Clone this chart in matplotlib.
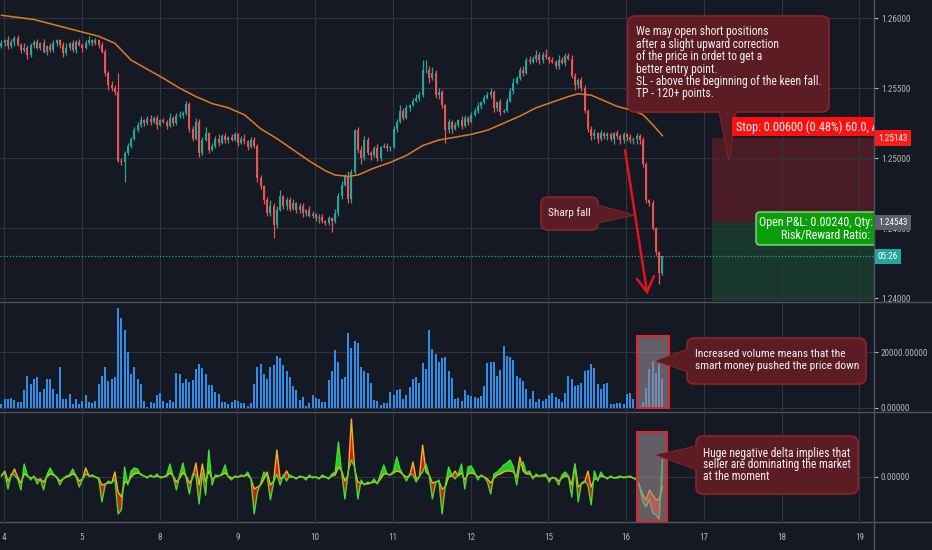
import matplotlib
matplotlib.use('Agg')
import matplotlib.pyplot as plt
import matplotlib.transforms as mtransforms
from matplotlib.patches import Rectangle, FancyBboxPatch, Polygon
from matplotlib.lines import Line2D
from matplotlib import font_manager
import numpy as np

# ---------------- data ----------------
day_labels = ['4', '5', '8', '9', '10', '11', '12', '15', '16', '17', '18', '19']
first_open = 1.2580
close = [
    1.2582, 1.2584, 1.2580, 1.2583, 1.2586, 1.2581, 1.2577, 1.2579, 1.2574, 1.2581,
    1.2583, 1.2579, 1.2582, 1.2576, 1.2580, 1.2577, 1.2582, 1.2584, 1.2581, 1.2575,
    1.2579, 1.2582, 1.2577, 1.2583, 1.2581, 1.2579, 1.2582, 1.2584, 1.2582, 1.2584,
    1.2581, 1.2576, 1.2561, 1.2552, 1.2550, 1.2547, 1.2498, 1.2497, 1.2504, 1.2509,
    1.2514, 1.2520, 1.2524, 1.2527, 1.2525, 1.2528, 1.2526, 1.2529, 1.2524, 1.2527,
    1.2526, 1.2523, 1.2529, 1.2525, 1.2530, 1.2531, 1.2532, 1.2539, 1.2521, 1.2514,
    1.2526, 1.2504, 1.2513, 1.2518, 1.2506, 1.2509, 1.2514, 1.2511, 1.2516, 1.2513,
    1.2515, 1.2513, 1.2517, 1.2511, 1.2514, 1.2512, 1.2508, 1.2513, 1.2509, 1.2486,
    1.2480, 1.2470, 1.2461, 1.2466, 1.2452, 1.2463, 1.2473, 1.2466, 1.2470, 1.2464,
    1.2468, 1.2463, 1.2466, 1.2461, 1.2463, 1.2459, 1.2460, 1.2457, 1.2458, 1.2455,
    1.2454, 1.2457, 1.2455, 1.2461, 1.2473, 1.2481, 1.2487, 1.2471, 1.2490, 1.2520,
    1.2506, 1.2500, 1.2513, 1.2504, 1.2502, 1.2507, 1.2500, 1.2508, 1.2509, 1.2507,
    1.2508, 1.2521, 1.2526, 1.2534, 1.2529, 1.2536, 1.2538, 1.2541, 1.2543, 1.2545,
    1.2563, 1.2563, 1.2557, 1.2561, 1.2545, 1.2547, 1.2538, 1.2520, 1.2526, 1.2521,
    1.2524, 1.2527, 1.2523, 1.2529, 1.2526, 1.2531, 1.2534, 1.2537, 1.2540, 1.2543,
    1.2545, 1.2547, 1.2536, 1.2540, 1.2533, 1.2534, 1.2541, 1.2548, 1.2554, 1.2557,
    1.2563, 1.2561, 1.2570, 1.2569, 1.2571, 1.2574, 1.2570, 1.2574, 1.2572, 1.2570,
    1.2569, 1.2566, 1.2570, 1.2568, 1.2573, 1.2571, 1.2559, 1.2552, 1.2556, 1.2550,
    1.2534, 1.2521, 1.2516, 1.2518, 1.2514, 1.2518, 1.2516, 1.2517, 1.2514, 1.2518,
    1.2516, 1.2513, 1.2517, 1.2515, 1.2513, 1.2514, 1.2516, 1.2513, 1.2496, 1.2470,
    1.2468, 1.2450, 1.2433, 1.2418, 1.2430]
upper_wick_pips = [
    2, 1, 3, 2, 1, 2, 1, 3, 2, 1, 1, 2, 1, 3, 1, 2, 2, 1, 1, 2,
    3, 1, 2, 1, 2, 1, 2, 3, 1, 2, 1, 2, 2, 1, 3, 2, 14, 2, 1, 2,
    1, 2, 2, 3, 1, 2, 3, 1, 2, 1, 2, 1, 3, 1, 2, 3, 2, 2, 1, 2,
    3, 2, 2, 4, 1, 2, 2, 3, 1, 2, 1, 2, 2, 1, 2, 3, 1, 2, 2, 1,
    2, 1, 2, 4, 2, 3, 4, 1, 2, 2, 3, 1, 2, 2, 1, 3, 2, 1, 2, 2,
    1, 2, 1, 3, 2, 3, 2, 4, 2, 1, 2, 3, 3, 2, 1, 2, 3, 1, 2, 2,
    1, 2, 2, 4, 2, 2, 1, 2, 3, 2, 7, 7, 3, 4, 2, 3, 2, 1, 2, 1,
    2, 1, 3, 2, 1, 2, 2, 3, 1, 2, 2, 3, 2, 1, 2, 1, 2, 2, 3, 2,
    2, 3, 2, 3, 2, 3, 2, 2, 4, 1, 2, 1, 4, 2, 2, 2, 3, 2, 1, 2,
    2, 1, 2, 3, 1, 2, 1, 2, 2, 1, 2, 1, 2, 1, 2, 1, 2, 1, 2, 1,
    1, 2, 1, 1, 0]
lower_wick_pips = [
    1, 2, 2, 1, 3, 1, 2, 1, 3, 2, 2, 1, 2, 1, 2, 1, 1, 2, 2, 3,
    1, 2, 1, 2, 1, 3, 1, 1, 2, 1, 2, 1, 2, 3, 2, 2, 1, 2, 14, 2,
    2, 1, 1, 2, 2, 1, 2, 1, 3, 1, 1, 2, 1, 2, 1, 1, 2, 1, 2, 2,
    1, 3, 2, 1, 2, 1, 2, 2, 1, 2, 2, 1, 1, 2, 1, 2, 2, 1, 2, 3,
    2, 3, 2, 2, 9, 2, 1, 2, 3, 2, 1, 2, 2, 3, 2, 1, 2, 2, 3, 1,
    2, 2, 8, 1, 2, 2, 1, 3, 3, 1, 2, 4, 1, 2, 3, 1, 2, 2, 1, 2,
    2, 1, 2, 1, 2, 1, 2, 1, 1, 2, 1, 2, 3, 1, 2, 3, 2, 9, 2, 3,
    1, 2, 2, 1, 2, 1, 1, 2, 2, 1, 1, 2, 3, 2, 2, 1, 1, 1, 2, 1,
    1, 2, 1, 2, 1, 2, 3, 2, 1, 2, 1, 2, 2, 1, 2, 1, 2, 3, 2, 2,
    2, 2, 3, 2, 3, 2, 2, 3, 2, 4, 2, 3, 2, 3, 2, 3, 4, 3, 2, 2,
    2, 1, 2, 8, 1]
volume = [
    1300, 2900, 2900, 3400, 2600, 1900, 1900,
    6200, 11300, 8300, 10200, 10900, 5600, 6600, 10200, 10400, 6800, 5000, 14700,
    3200, 2900, 5000, 1300, 3200, 1300, 2200, 4400, 1900, 1700, 2400,
    8300, 11300, 14700, 9500, 10400, 11100,
    35900, 32300, 28000, 19900, 11900, 14700, 10200, 8300, 2200, 200, 1900, 1700,
    4400, 5400, 2200, 1700, 2600, 2000,
    12600, 11900, 9000, 10200, 9200, 9800, 13800, 15800, 14300, 11900, 8000, 8000,
    5600, 5000, 1900, 1900, 1200, 1900, 2600, 2200, 1700, 1700, 700, 1500,
    8300, 14700, 15500, 11900, 10400, 14700, 15300, 18700, 17700, 15300, 13100,
    11000, 7800, 6200, 2600, 3800, 700, 1700, 4400, 3400, 2900, 1900, 1900,
    9800, 13100, 20700, 16500, 10200, 11000, 26800, 21400, 24000, 23200, 14700,
    13100, 12600, 9000, 2600, 2200, 1000, 1700, 1500,
    5600, 4400, 6200, 6600, 3200, 4400, 7400, 10400, 11000, 9000, 15900, 13800,
    28000, 21100, 19200, 16500, 18000, 18300, 13100, 10700, 2900, 3400, 2200, 6200,
    4400, 4000, 3800, 3400, 4000, 7800, 15900, 16300, 16500, 11400, 13500, 22000,
    18700, 18300, 17100, 11400, 10700, 9500, 6800, 3200, 5800, 2000, 2900, 2500,
    2900, 4400, 5400, 3800, 3000,
    2000, 5400, 11300, 10200, 7800, 8000, 9000, 13100, 13500, 15500, 14100, 8600,
    6800, 8300, 9000, 1400, 1400, 1700, 1500,
    1400, 4700, 5400, 2900, 2200, 700, 2000, 7100, 13800, 16900, 12600, 15700, 10400]
delta = [
    2, 4, -12, 3, 2, -2, -13, 13, 2, -3, 1, -7, -2, -13, 2, 9, 3, 0, -8, -2,
    1, 2, 8, 1, -10, -2, 3, 1, 2, 0, -2, -25, -8, -4, -6, -2, -37, -33, 10, -8,
    6, 9, 8, 2, 1, -1, 2, 0, 3, -1, 0, 2, 13, 0, -13, 2, 14, -1, -17, 3,
    2, -27, 4, -18, 27, -8, 2, 1, 3, 12, 0, -3, 1, 0, 2, 1, 5, -2, -37, -15,
    -6, 5, 1, -23, -5, 3, -8, 2, -4, 2, 0, -2, 1, 0, -3, 2, -1, 0, -2, 2,
    0, -2, 3, 5, 35, 4, -22, 5, 17, 10, -22, -3, -8, -5, -6, -2, -7, 3, 12, 3,
    2, 6, 20, 8, 2, -4, 3, 2, -5, 1, 5, 13, 2, -22, -6, -3, -37, -8, 10, 2,
    -2, 3, 13, -12, 10, 11, 5, -3, 2, 0, -5, -17, 3, 5, 8, 12, 14, 17, 10, -8,
    12, 15, 4, 6, -2, 3, 1, 2, 3, -5, 0, -2, -8, 2, 5, 1, -20, 13, -25, -6,
    -4, -8, -28, 6, -4, 5, 0, -2, 1, -1, 0, 1, -1, 0, 1, -1, -3, -10, -25, -30,
    -22, -36, -38, -42, 17]
delta_signal = [
    1, 6, -4, 1, 8, 0, -6, 3, 1, -1, 0, -3, -2, -5, 0, 3, 2, 0, -4, -2,
    0, 1, 3, 1, -4, -2, 9, 1, 1, 0, -1, -8, -7, -6, -6, 5, -15, -20, -5, -6,
    0, 3, 4, 3, 1, 0, 1, 0, 1, 0, 0, 1, 4, 1, -5, -1, 4, 1, -6, -1,
    14, -8, 13, -5, 6, -2, 0, 1, 2, 4, 1, -1, 0, 0, 1, 1, 2, -2, -12, -10,
    -8, -2, 5, -8, -4, 27, -2, 0, 6, 0, 0, -1, 0, 0, -1, 0, 0, 0, -1, 0,
    0, -1, 1, 2, 10, 6, -4, 2, 58, 8, -5, -6, -7, -7, -6, -5, -6, -2, 3, 3,
    2, 4, 6, 5, 2, 0, 1, 15, -2, 0, 32, 5, 2, -6, -5, -4, -12, -10, 0, 1,
    6, 1, 4, -3, 3, 4, 3, 0, 1, 0, -2, -6, -1, 2, 3, 5, 6, 6, 5, 0,
    20, 6, 3, 3, 0, 1, 1, 1, 1, -2, -1, -1, -4, -1, 1, 0, -8, 13, -10, -7,
    -5, 6, -10, -2, -2, 1, 0, -1, 0, -1, -1, 0, 0, 0, 0, -1, -2, -10, -18, -23,
    -13, -18, -23, -22, -10]
ma_index = [0, 10, 20, 30, 35, 40, 50, 55, 60, 65, 70, 75, 80, 85, 90, 95, 100, 103,
            107, 110, 115, 120, 125, 130, 135, 140, 145, 150, 155, 160, 165, 170,
            175, 178, 182, 185, 190, 195, 198, 201, 204]
ma_value = [1.2602, 1.2599, 1.2593, 1.2587, 1.2582, 1.2570, 1.2557, 1.2550, 1.2544,
            1.2539, 1.2536, 1.2531, 1.2521, 1.2514, 1.2506, 1.2498, 1.2491, 1.2488,
            1.2487, 1.2488, 1.2493, 1.2497, 1.2502, 1.2509, 1.2513, 1.2515, 1.2517,
            1.2520, 1.2525, 1.2530, 1.2536, 1.2540, 1.2544, 1.2546, 1.2545, 1.2542,
            1.2537, 1.2534, 1.2531, 1.2524, 1.2516]
price_ticks = [1.24, 1.245, 1.25, 1.255, 1.26]
volume_ticks = [0, 20000]
delta_ticks = [0]
last_price = 1.2430
entry_price = 1.24543
stop_price = 1.25143
target_price = 1.2380
countdown = '05:26'
position_start = 219.3  # candle index where the short-position tool starts

callout_main = ["We may open short positions",
                "after a slight upward correction",
                "of the price in ordet to get a",
                "better entry point.",
                "SL - above the beginning of the keen fall.",
                "TP - 120+ points."]
callout_fall = ["Sharp fall"]
callout_volume = ["Increased volume means that the",
                  "smart money pushed the price down"]
callout_delta = ["Huge negative delta implies that",
                 "seller are dominating the market",
                 "at the moment"]
stop_text = "Stop: 0.00600 (0.48%) 60.0, Amount: 1"
pnl_lines = ["Open P&L: 0.00240, Qty:", "Risk/Reward Ratio:"]

# ---------------- style ----------------
W, H = 932, 550
BG = '#151924'
GRID = '#2f3441'
SEP = '#50545f'
TXT = '#b2b5be'
UP = '#26a69a'
DOWN = '#ef5350'
CF = '#5b1c24'
CE = '#8e222b'

avail = {f.name for f in font_manager.fontManager.ttflist}
FONT = 'DejaVu Sans'
for cand in ['Roboto Condensed', 'Liberation Sans Narrow', 'Archivo Narrow']:
    if cand in avail:
        FONT = cand
        break
plt.rcParams['font.family'] = [FONT, 'DejaVu Sans']

fig = plt.figure(figsize=(W / 100, H / 100), dpi=100, facecolor=BG)
R = fig.canvas.get_renderer()


def frac(x0, y0, x1, y1):
    return [x0 / W, 1 - y1 / H, (x1 - x0) / W, (y1 - y0) / H]


def fit_size(s, target_w, base=10.0):
    t = fig.text(0, 0, s, fontsize=base)
    w = t.get_window_extent(renderer=R).width
    t.remove()
    return base * target_w / w


ax_p = fig.add_axes(frac(0, 0, 874, 301))
ax_v = fig.add_axes(frac(0, 302, 874, 411))
ax_d = fig.add_axes(frac(0, 412, 874, 521))

n = min(len(close), len(volume), len(delta), len(delta_signal),
        len(upper_wick_pips), len(lower_wick_pips))
xs = np.arange(n)
c = np.array(close[:n])
o = np.array([first_open] + close[:n - 1])
hi = np.maximum(o, c) + np.array(upper_wick_pips[:n]) * 0.0001
lo = np.minimum(o, c) - np.array(lower_wick_pips[:n]) * 0.0001
cols = [UP if cc >= oo else DOWN for oo, cc in zip(o, c)]
day_pos = [0.8 + 24 * k for k in range(len(day_labels))]

tick_fs = max(6.0, min(8.0, fit_size('1.26000', 29)))

for ax in (ax_p, ax_v, ax_d):
    ax.set_facecolor(BG)
    for sp in ax.spines.values():
        sp.set_visible(False)
    ax.set_xlim(-0.46, 269.3)
    ax.set_xticks(day_pos)
    ax.grid(True, color=GRID, lw=0.8)
    ax.set_axisbelow(True)
    ax.yaxis.tick_right()
    ax.tick_params(axis='y', colors=TXT, labelsize=tick_fs, length=3, width=0.8, pad=2)
    ax.yaxis.set_major_formatter(matplotlib.ticker.FormatStrFormatter('%.5f'))

# price panel
ax_p.set_ylim(1.23981, 1.26129)
ax_p.set_yticks(price_ticks)
ax_p.tick_params(axis='x', labelbottom=False, length=0)
ax_p.add_patch(Rectangle((position_start, entry_price), 100, stop_price - entry_price,
                         fc='#4a1c25', ec='none', zorder=0.5))
ax_p.add_patch(Rectangle((position_start, target_price), 100, entry_price - target_price,
                         fc='#17382a', ec='none', zorder=0.5))
ax_p.vlines(xs, lo, hi, colors=cols, lw=0.9, zorder=2)
body = c - o
body = np.where(np.abs(body) < 0.00002, 0.00002, body)
ax_p.bar(xs, body, bottom=o, width=0.62, color=cols, lw=0, zorder=3)
ax_p.plot(ma_index, ma_value, color='#e07b1f', lw=1.1, zorder=4)
ax_p.axhline(last_price, color=UP, lw=0.9, ls=(0, (1, 1.5)), zorder=1)

# volume panel
ax_v.set_ylim(-1260, 38020)
ax_v.set_yticks(volume_ticks)
ax_v.tick_params(axis='x', labelbottom=False, length=0)
ax_v.bar(xs, volume[:n], width=0.62, color='#2f8fe8', lw=0, zorder=2)

# delta panel
ax_d.set_ylim(-44, 65)
ax_d.set_yticks(delta_ticks)
D = np.array(delta[:n], float)
S = np.array(delta_signal[:n], float)
ax_d.fill_between(xs, D, S, where=D >= S, interpolate=True, color='#22cc22', lw=0, zorder=2)
ax_d.fill_between(xs, D, S, where=D < S, interpolate=True, color='#dd1414', lw=0, zorder=2)
ax_d.plot(xs, S, color='#f0b420', lw=1.0, zorder=3)
ax_d.plot(xs, D, color='#44dd33', lw=1.0, zorder=4)
ax_d.set_xticklabels(day_labels)
ax_d.tick_params(axis='x', colors=TXT, labelsize=tick_fs, length=0, pad=9)

# ---------------- overlay (pixel coordinates) ----------------
ov = fig.add_axes([0, 0, 1, 1])
ov.set_zorder(10)
ov.set_xlim(0, W)
ov.set_ylim(H, 0)
ov.axis('off')
ov.patch.set_alpha(0)

# separators
ov.add_line(Line2D([874, 874], [0, H], color=SEP, lw=1))
for yy in (301.5, 411.5, 521.5):
    ov.add_line(Line2D([0, W], [yy, yy], color=SEP, lw=1))


def callout(x0, y0, x1, y1, tri, lines, tx, ty0, dy, target_w, ha='left'):
    ov.add_patch(Polygon(tri, closed=True, fc=CF, ec=CE, lw=1.2, joinstyle='round'))
    ov.add_patch(FancyBboxPatch((x0, y0), x1 - x0, y1 - y0,
                                boxstyle='round,pad=0,rounding_size=7',
                                fc=CF, ec=CE, lw=1.2))
    ov.add_patch(Polygon(tri, closed=True, fc=CF, ec='none'))
    longest = max(lines, key=len)
    fs = fit_size(longest, target_w)
    for k, s in enumerate(lines):
        ov.text(tx, ty0 + k * dy, s, color='#f2f2f2', fontsize=fs, ha=ha, va='center')


callout(628, 16, 829, 112, [(719, 110), (736, 110), (729, 160)],
        callout_main, 636, 32, 12.4, 185)
callout(541, 197, 598, 230, [(596, 205), (596, 223), (633, 215)],
        callout_fall, 569.5, 213, 0, 43, ha='center')

# highlight rectangles
ov.add_patch(Rectangle((637, 336), 32, 72, fc='#9a8c92', alpha=0.6, ec='none'))
ov.add_patch(Rectangle((637, 336), 32, 72, fc='none', ec='#e0262a', lw=1.5))
ov.add_patch(Rectangle((637, 432), 30, 89, fc='#9a8c92', alpha=0.6, ec='none'))
ov.add_patch(Rectangle((637, 432), 30, 89, fc='none', ec='#e0262a', lw=1.5))

callout(687, 338, 866, 384, [(689, 349), (689, 372), (657, 361)],
        callout_volume, 695, 354, 12.3, 163)
callout(696, 436, 858, 494, [(698, 446), (698, 470), (657, 455)],
        callout_delta, 703, 453, 11.8, 147)

# red arrow
AR = '#e2141b'
ov.add_line(Line2D([625, 647], [150, 292], color=AR, lw=1.8, solid_capstyle='round'))
ov.add_line(Line2D([637, 647, 654], [279, 292, 276], color=AR, lw=1.8,
                   solid_capstyle='round', solid_joinstyle='miter'))

# stop label (clipped at price axis)
p = Rectangle((732, 117), 150, 19, fc='#ff1010', ec='none')
ov.add_patch(p)
p.set_clip_box(ax_p.bbox)
fs_stop = fit_size("Stop: 0.00600 (0.48%) 60.0,", 132)
t = ov.text(736, 127, stop_text, color='white', fontsize=fs_stop, ha='left', va='center')
t.set_clip_box(ax_p.bbox)
t.set_clip_on(True)

# P&L label
g = FancyBboxPatch((756, 212), 130, 33, boxstyle='round,pad=0,rounding_size=4',
                   fc='#0a9e0a', ec='#8fd88f', lw=1)
ov.add_patch(g)
g.set_clip_box(ax_p.bbox)
fs_pnl = fit_size(pnl_lines[0], 113)
for s, xr, yy in zip(pnl_lines, (873, 870), (222.5, 235)):
    t = ov.text(xr, yy, s, color='white', fontsize=fs_pnl, ha='right', va='center')
    t.set_clip_box(ax_p.bbox)
    t.set_clip_on(True)

# right-axis value labels
blend = mtransforms.blended_transform_factory(ov.transData, ax_p.transData)
for val, label, col in ((stop_price, '%.5f' % stop_price, '#ff1a1a'),
                        (entry_price, '%.5f' % entry_price, '#5d606b'),
                        (last_price, countdown, UP)):
    ov.text(878, val, label, transform=blend, color='white', fontsize=tick_fs,
            ha='left', va='center',
            bbox=dict(boxstyle='square,pad=0.35', fc=col, ec='none'))

fig.savefig('out.png', dpi=100, facecolor=BG)
